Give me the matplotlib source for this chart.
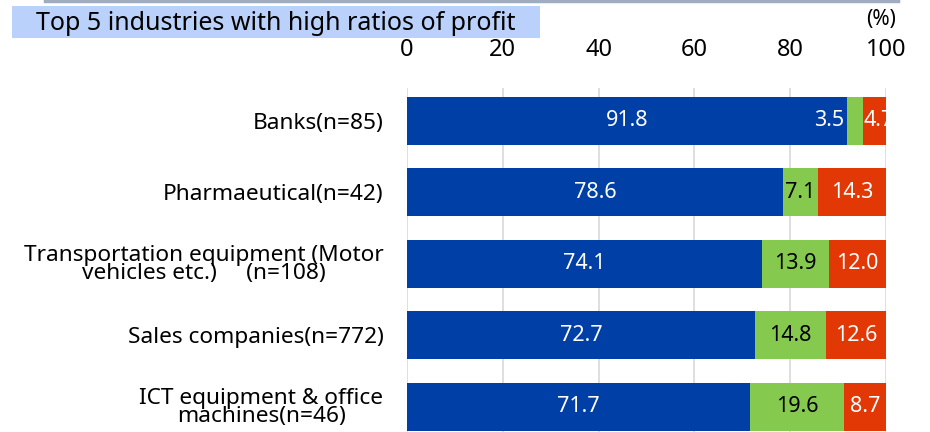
import numpy as np
import matplotlib.pyplot as plt
from matplotlib.patches import Rectangle

plt.rcParams['font.family'] = ['Noto Sans', 'DejaVu Sans']

categories = ["Banks(n=85)", "Pharmaeutical(n=42)",
              "Transportation equipment (Motor\nvehicles etc.)     (n=108)",
              "Sales companies(n=772)",
              "ICT equipment & office\nmachines(n=46)"]
profit = [91.8, 78.6, 74.1, 72.7, 71.7]
neutral = [3.5, 7.1, 13.9, 14.8, 19.6]
loss = [4.7, 14.3, 12.0, 12.6, 8.7]
ticks = [0, 20, 40, 60, 80, 100]

c_blue = "#003fa6"
c_green = "#86c94f"
c_red = "#e23805"

fig = plt.figure(figsize=(9.3, 4.32), dpi=100)
ax = fig.add_axes([407/930, 0, 479/930, 344/432])

y = np.arange(len(categories))
h = 0.67
profit = np.array(profit)
neutral = np.array(neutral)
loss = np.array(loss)

ax.barh(y, profit, height=h, color=c_blue, zorder=2)
ax.barh(y, neutral, left=profit, height=h, color=c_green, zorder=2)
ax.barh(y, loss, left=profit + neutral, height=h, color=c_red, zorder=2)

fs = 15.5
for i in range(len(categories)):
    ax.text(profit[i] / 2, y[i], f"{profit[i]:.1f}", color="white",
            ha="center", va="center", fontsize=fs, zorder=3)
    if neutral[i] < 5:
        ax.text(profit[i] - 0.4, y[i], f"{neutral[i]:.1f}", color="white",
                ha="right", va="center", fontsize=fs, zorder=3)
    else:
        ax.text(profit[i] + neutral[i] / 2, y[i], f"{neutral[i]:.1f}", color="black",
                ha="center", va="center", fontsize=fs, zorder=3)
    if loss[i] < 5:
        t = ax.text(profit[i] + neutral[i] + 0.1, y[i], f"{loss[i]:.1f}", color="white",
                    ha="left", va="center", fontsize=fs, zorder=3)
        t.set_clip_on(True)
    else:
        ax.text(profit[i] + neutral[i] + loss[i] / 2, y[i], f"{loss[i]:.1f}", color="white",
                ha="center", va="center", fontsize=fs, zorder=3)

ax.set_xlim(0, 100)
ax.set_ylim(4.35, -0.46)
ax.set_xticks(ticks)
ax.set_xticklabels([str(t) for t in ticks], fontsize=17)
ax.xaxis.tick_top()
ax.tick_params(axis="x", length=0, pad=19)
ax.set_yticks(y)
ax.set_yticklabels(categories, fontsize=16.3, linespacing=0.8,
                   ha="right", multialignment="center")
ax.tick_params(axis="y", length=0, pad=17)
ax.grid(axis="x", color="#d9d9d9", linewidth=1.2, zorder=0)
for s in ax.spines.values():
    s.set_visible(False)

fig.add_artist(Rectangle((12/930, 1 - 38/432), 528/930, 32/432,
                         transform=fig.transFigure, facecolor="#bad2fb", edgecolor="none"))
fig.text(276/930, 1 - 23/432, "Top 5 industries with high ratios of profit",
         fontsize=18, ha="center", va="center")
fig.text(881/930, 1 - 19/432, "(%)", fontsize=15, ha="center", va="center")
fig.add_artist(plt.Line2D([45/930, 898/930], [1 - 1/432, 1 - 1/432], color="#a0acc0", linewidth=2.5))

fig.savefig("out.png", dpi=100)
